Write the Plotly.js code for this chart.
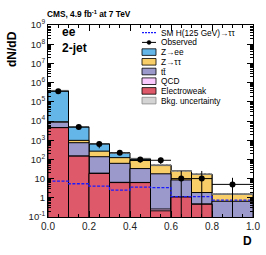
<!DOCTYPE html>
<html>
<head>
<meta charset="utf-8">
<script src="https://cdn.plot.ly/plotly-3.0.1.min.js"></script>
<style>html,body{margin:0;padding:0;background:#fff;}#chart{width:266px;height:255px;}</style>
</head>
<body>
<div id="chart"></div>
<script>
// ---- data ----
const binEdges = [0.0, 0.1, 0.2, 0.3, 0.4, 0.5, 0.6, 0.7, 0.8, 1.0];
const electroweak = [4500, 148, 18.6, 6.2, 6.2, 0.21, 1.1, 0.46, 0.05];
const qcd        = [20, 2, 0.5, 0.2, 0.1, 0.05, 0.02, 0.02, 0.01];
const ttbar      = [4200, 590, 119, 56, 27, 17.5, 7.4, 1.4, 0.6];
const ztautau    = [300, 240, 131, 61, 54, 30, 16, 14.7, 0.85];
const zee        = [381000, 4020, 400, 92, 25, 4, 1.5, 0.9, 0.1];
const bkgUnc     = [20000, 300, 50, 18, 10, 6, 3, 2, 0.25];
const smHiggs    = [7.4, 5.4, 4.1, 2.5, 3.6, 3.4, 1.15, 1.15, 0.76];
const observed   = [350000, 4800, 630, 220, 100, 90, 10, 10, 5];
const obsErrUp   = [590, 700, 250, 50, 32, 32, 15, 15, 6];
const obsErrDown = [590, 700, 250, 50, 32, 32, 9.99, 9.99, 4.995];
const yTickVals  = [0.1, 1, 10, 100, 1e3, 1e4, 1e5, 1e6, 1e7, 1e8, 1e9];
const yTickText  = ["10<sup>-1</sup>", "1", "10", "10<sup>2</sup>", "10<sup>3</sup>", "10<sup>4</sup>", "10<sup>5</sup>", "10<sup>6</sup>", "10<sup>7</sup>", "10<sup>8</sup>", "10<sup>9</sup>"];
const xTickVals  = [0.0, 0.2, 0.4, 0.6, 0.8, 1.0];
const xTickText  = ["0.0", "0.2", "0.4", "0.6", "0.8", "1.0"];

// ---- derived ----
const n = binEdges.length - 1;
const centers = [], widths = [];
for (let i = 0; i < n; i++) { centers.push((binEdges[i] + binEdges[i+1]) / 2); widths.push(binEdges[i+1] - binEdges[i]); }
const cum1 = electroweak.slice();
const cum2 = cum1.map((v, i) => v + qcd[i]);
const cum3 = cum2.map((v, i) => v + ttbar[i]);
const cum4 = cum3.map((v, i) => v + ztautau[i]);
const cum5 = cum4.map((v, i) => v + zee[i]);

const col = {zee: '#64b6e8', ztt: '#f8ce68', tt: '#9b98cc', qcd: '#facaff', ewk: '#de5a6a'};
function barTrace(y, color) {
  return {type: 'bar', x: centers, y: y, width: widths, marker: {color: color, line: {color: '#000', width: 1}}, showlegend: false, hoverinfo: 'skip'};
}
const traces = [
  barTrace(cum5, col.zee),
  barTrace(cum4, col.ztt),
  barTrace(cum3, col.tt),
  barTrace(cum2, col.qcd),
  barTrace(cum1, col.ewk),
  {type: 'bar', x: centers, width: widths, base: cum5.map((v, i) => v - bkgUnc[i]), y: bkgUnc.map(e => 2 * e),
   marker: {color: 'rgba(0,0,0,0)', line: {width: 0}, pattern: {shape: 'x', fgcolor: '#777', bgcolor: 'rgba(255,255,255,0.4)', size: 3, solidity: 0.4}},
   showlegend: false, hoverinfo: 'skip'},
  {type: 'scatter', mode: 'lines', x: binEdges, y: smHiggs.concat([smHiggs[n-1]]), line: {shape: 'hv', color: '#1a1aff', width: 1.3, dash: '3px,1.5px'}, showlegend: false, hoverinfo: 'skip'},
  {type: 'scatter', mode: 'markers', x: centers, y: observed, marker: {color: '#000', size: 6},
   error_y: {type: 'data', symmetric: false, array: obsErrUp, arrayminus: obsErrDown, color: '#000', thickness: 1, width: 0},
   error_x: {type: 'data', array: widths.map(w => w / 2), color: '#000', thickness: 1, width: 0},
   showlegend: false, hoverinfo: 'skip'}
];

// ---- layout helpers (pixel -> paper) ----
const L = 48, R = 253, T = 25, B = 217;
const PX = x => (x - L) / (R - L);
const PY = y => (B - y) / (B - T);
const font = 'Liberation Sans, Arial, Helvetica, sans-serif';

const legendItems = [
  {label: 'SM H(125 GeV)→ττ', kind: 'dash', color: '#1a1aff'},
  {label: 'Observed', kind: 'obs'},
  {label: 'Z→ee', kind: 'box', color: col.zee},
  {label: 'Z→ττ', kind: 'box', color: col.ztt},
  {label: 'tt̄', kind: 'box', color: col.tt},
  {label: 'QCD', kind: 'box', color: col.qcd},
  {label: 'Electroweak', kind: 'box', color: col.ewk},
  {label: 'Bkg. uncertainty', kind: 'box', color: '#d4d4d4', border: '#888'}
];
const shapes = [], annotations = [];
legendItems.forEach((it, k) => {
  const yc = 32.7 + k * 9.7;
  if (it.kind === 'dash') {
    shapes.push({type: 'line', xref: 'paper', yref: 'paper', x0: PX(142), x1: PX(156), y0: PY(yc), y1: PY(yc), line: {color: it.color, width: 1.3, dash: '2px,1px'}});
  } else if (it.kind === 'obs') {
    shapes.push({type: 'line', xref: 'paper', yref: 'paper', x0: PX(142), x1: PX(156), y0: PY(yc), y1: PY(yc), line: {color: '#000', width: 1}});
    shapes.push({type: 'circle', xref: 'paper', yref: 'paper', x0: PX(147), x1: PX(151), y0: PY(yc + 2), y1: PY(yc - 2), fillcolor: '#000', line: {color: '#000', width: 0.5}});
  } else {
    shapes.push({type: 'rect', xref: 'paper', yref: 'paper', x0: PX(142), x1: PX(156), y0: PY(yc + 3.3), y1: PY(yc - 3.3), fillcolor: it.color, line: {color: it.border || '#000', width: 0.8}});
  }
  annotations.push({xref: 'paper', yref: 'paper', x: PX(159), y: PY(yc), xanchor: 'left', yanchor: 'middle', text: it.label, showarrow: false, font: {family: font, size: 8.3, color: '#000'}});
});
annotations.push(
  {xref: 'paper', yref: 'paper', x: PX(45), y: PY(14), xanchor: 'left', yanchor: 'middle', text: '<b>CMS, 4.9 fb<sup>-1</sup> at 7 TeV</b>', showarrow: false, font: {family: font, size: 8.3, color: '#000'}},
  {xref: 'paper', yref: 'paper', x: PX(60), y: PY(32), xanchor: 'left', yanchor: 'middle', text: '<b>ee</b>', showarrow: false, font: {family: font, size: 12, color: '#000'}},
  {xref: 'paper', yref: 'paper', x: PX(60), y: PY(48), xanchor: 'left', yanchor: 'middle', text: '<b>2-jet</b>', showarrow: false, font: {family: font, size: 12, color: '#000'}},
  {xref: 'paper', yref: 'paper', x: PX(12), y: PY(49), xanchor: 'center', yanchor: 'middle', textangle: -90, text: '<b>dN/dD</b>', showarrow: false, font: {family: font, size: 12, color: '#000'}},
  {xref: 'paper', yref: 'paper', x: PX(247), y: PY(241), xanchor: 'center', yanchor: 'middle', text: '<b>D</b>', showarrow: false, font: {family: font, size: 12, color: '#000'}}
);

const layout = {
  width: 266, height: 255,
  margin: {l: L, r: 266 - R, t: T, b: 255 - B},
  paper_bgcolor: '#fff', plot_bgcolor: '#fff',
  barmode: 'overlay', bargap: 0,
  showlegend: false,
  xaxis: {range: [0, 1], tickvals: xTickVals, ticktext: xTickText, ticks: 'inside', ticklen: 6, tickcolor: '#000',
          showline: true, linecolor: '#000', linewidth: 1, mirror: 'ticks', showgrid: false, zeroline: false,
          tickfont: {family: font, size: 10, color: '#222'},
          minor: {dtick: 0.05, ticks: 'inside', ticklen: 3, tickcolor: '#000', showgrid: false}},
  yaxis: {type: 'log', range: [-1, 9], tickvals: yTickVals, ticktext: yTickText, ticks: 'inside', ticklen: 6, tickcolor: '#000',
          showline: true, linecolor: '#000', linewidth: 1, mirror: 'ticks', showgrid: false, zeroline: false,
          tickfont: {family: font, size: 9.5, color: '#222'},
          minor: {dtick: 'D1', ticks: 'inside', ticklen: 3, tickcolor: '#000', showgrid: false}},
  shapes: shapes,
  annotations: annotations
};

Plotly.newPlot('chart', traces, layout, {staticPlot: true, displayModeBar: false});
</script>
</body>
</html>
